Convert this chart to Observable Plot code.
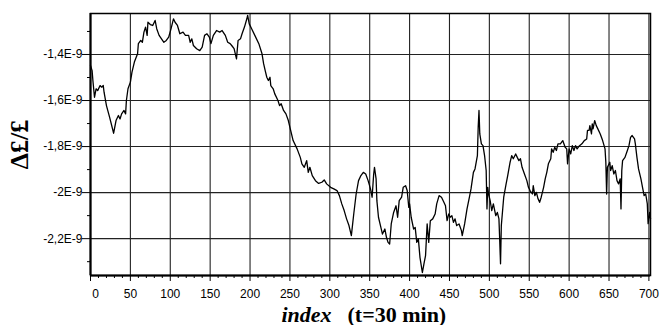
<!DOCTYPE html>
<html>
<head>
<meta charset="utf-8">
<script src="https://cdn.jsdelivr.net/npm/d3@7"></script>
<script src="https://cdn.jsdelivr.net/npm/@observablehq/plot@0.6"></script>
<style>
  html, body { margin: 0; padding: 0; background: #fff; }
  #chart svg { display: block; }
</style>
</head>
<body>
<div id="chart"></div>
<script>
// Sample index (t = 30 min steps)
const xIndex = [
  0, 2, 3, 5, 7, 9, 12, 14, 16, 17, 20, 24, 29, 32, 35, 37, 39, 42, 44, 45,
  47, 50, 52, 55, 59, 60, 63, 65, 67, 69, 71, 72, 75, 78, 81, 83, 86, 89, 92, 95,
  98, 101, 104, 106, 109, 112, 116, 119, 123, 125, 127, 129, 133, 137, 140, 143, 146, 149, 151, 154,
  158, 162, 165, 169, 172, 175, 177, 180, 183, 185, 188, 190, 193, 196, 197, 199, 202, 206, 211, 215,
  217, 219, 221, 223, 225, 226, 229, 231, 235, 237, 239, 242, 245, 248, 250, 254, 259, 263, 265, 268,
  271, 273, 275, 278, 282, 286, 290, 293, 296, 301, 305, 309, 312, 315, 318, 321, 324, 327, 330, 333,
  336, 339, 342, 345, 348, 351, 353, 355, 356, 358, 359, 361, 364, 366, 369, 371, 373, 375, 377, 380,
  383, 385, 387, 390, 392, 395, 397, 399, 400, 402, 405, 407, 409, 411, 413, 416, 418, 420, 422, 424,
  426, 429, 432, 434, 437, 440, 443, 445, 447, 449, 451, 453, 455, 457, 459, 462, 465, 466, 469, 472,
  475, 477, 480, 482, 485, 486, 487, 488, 490, 492, 494, 496, 497, 498, 499, 501, 503, 505, 508, 510,
  512, 513, 514, 515, 518, 521, 523, 526, 528, 530, 533, 535, 537, 539, 541, 544, 547, 549, 551, 554,
  555, 557, 559, 561, 563, 565, 568, 570, 572, 574, 577, 578, 580, 582, 584, 586, 589, 592, 595, 597,
  598, 600, 602, 604, 606, 608, 610, 613, 616, 619, 622, 623, 625, 626, 628, 629, 630, 632, 634, 636,
  639, 642, 645, 646, 647, 648, 651, 652, 654, 656, 658, 660, 662, 664, 665, 666, 667, 670, 673, 675,
  677, 679, 682, 683, 685, 687, 690, 692, 694, 696, 698, 699, 701, 702
];
// Δf/f values, in units of 1E-9
const dff = [
  -1.448, -1.470, -1.513, -1.586, -1.549, -1.557, -1.535, -1.542, -1.535, -1.564, -1.622, -1.673, -1.742, -1.687, -1.665, -1.680, -1.658, -1.643, -1.658, -1.600,
  -1.549, -1.520, -1.477, -1.433, -1.397, -1.353, -1.339, -1.347, -1.303, -1.281, -1.317, -1.260, -1.270, -1.274, -1.252, -1.288, -1.317, -1.332, -1.347, -1.339,
  -1.325, -1.288, -1.245, -1.260, -1.274, -1.310, -1.303, -1.317, -1.317, -1.347, -1.332, -1.361, -1.375, -1.383, -1.368, -1.317, -1.310, -1.325, -1.353, -1.317,
  -1.296, -1.303, -1.296, -1.317, -1.347, -1.353, -1.361, -1.375, -1.419, -1.339, -1.332, -1.310, -1.281, -1.245, -1.230, -1.267, -1.288, -1.317, -1.353, -1.397,
  -1.440, -1.470, -1.499, -1.513, -1.499, -1.535, -1.549, -1.571, -1.600, -1.622, -1.614, -1.643, -1.658, -1.687, -1.717, -1.774, -1.810, -1.847, -1.875, -1.890,
  -1.861, -1.912, -1.890, -1.926, -1.948, -1.960, -1.955, -1.945, -1.962, -1.977, -1.984, -1.991, -2.013, -2.049, -2.078, -2.114, -2.143, -2.187, -2.093, -2.006,
  -1.948, -1.926, -1.912, -1.919, -1.948, -1.984, -2.020, -1.919, -1.890, -1.940, -2.035, -2.107, -2.151, -2.180, -2.158, -2.194, -2.216, -2.223, -2.136, -2.086,
  -2.057, -2.107, -2.035, -2.020, -1.977, -1.970, -1.991, -2.064, -2.049, -2.107, -2.158, -2.151, -2.216, -2.201, -2.281, -2.347, -2.310, -2.274, -2.136, -2.216,
  -2.122, -2.114, -2.093, -2.049, -2.013, -2.020, -2.042, -2.057, -2.122, -2.093, -2.107, -2.100, -2.129, -2.114, -2.143, -2.136, -2.165, -2.187, -2.136, -2.071,
  -2.020, -1.984, -1.912, -1.897, -1.839, -1.716, -1.643, -1.745, -1.788, -1.796, -1.839, -1.904, -2.071, -1.977, -2.006, -2.035, -2.078, -2.049, -2.100, -2.086,
  -2.114, -2.209, -2.309, -2.143, -2.020, -1.962, -1.926, -1.868, -1.839, -1.853, -1.832, -1.847, -1.861, -1.853, -1.890, -1.919, -1.948, -1.977, -1.991, -2.006,
  -1.970, -2.013, -1.999, -2.027, -2.042, -2.020, -1.977, -1.940, -1.912, -1.875, -1.853, -1.810, -1.825, -1.803, -1.817, -1.788, -1.788, -1.774, -1.803, -1.810,
  -1.875, -1.810, -1.832, -1.796, -1.817, -1.796, -1.810, -1.796, -1.788, -1.774, -1.767, -1.730, -1.730, -1.709, -1.745, -1.701, -1.723, -1.687, -1.709, -1.723,
  -1.745, -1.774, -1.810, -1.868, -2.006, -1.890, -1.868, -1.904, -1.883, -1.919, -1.904, -1.948, -1.962, -1.940, -2.071, -1.904, -1.861, -1.847, -1.817, -1.796,
  -1.760, -1.752, -1.767, -1.788, -1.847, -1.897, -1.940, -1.977, -2.013, -2.006, -2.049, -2.135, -2.086, -2.113
];

const xTicks = [0, 50, 100, 150, 200, 250, 300, 350, 400, 450, 500, 550, 600, 650, 700];
const xMinorTicks = [];
for (let v = 0; v <= 700; v += 10) if (v % 50 !== 0) xMinorTicks.push(v);
const yTicks = [-1.4, -1.6, -1.8, -2.0, -2.2];
const yTickLabels = ["-1,4E-9", "-1,6E-9", "-1,8E-9", "-2E-9", "-2,2E-9"];
const yMinorTicks = [-1.3, -1.5, -1.7, -1.9, -2.1, -2.3];
const yTitle = "Δ£/£";
const xTitleMain = "index";
const xTitleUnit = "(t=30 min)";

const data = xIndex.map((x, i) => ({x, y: dff[i]}));
const gridColor = "#222";

const chart = Plot.plot({
  width: 662,
  height: 325,
  marginLeft: 90,
  marginRight: 12,
  marginTop: 13,
  marginBottom: 50,
  x: {domain: [0, 702]},
  y: {domain: [-2.36, -1.222]},
  style: {fontFamily: "'Liberation Sans', Arial, sans-serif", fontSize: "12px", background: "#fff", color: "#000"},
  marks: [
    Plot.gridX(xTicks, {stroke: gridColor, strokeOpacity: 1, strokeWidth: 1.1}),
    Plot.gridY(yTicks, {stroke: gridColor, strokeOpacity: 1, strokeWidth: 1.1}),
    Plot.axisX(xTicks, {tickSize: 6, tickPadding: 8, fontSize: 12, label: null,
      tickFormat: d => d === 0 ? "" : String(d)}),
    Plot.axisX([0], {tickSize: 0, tickPadding: 14, fontSize: 12, label: null, dx: 5,
      tickFormat: d => String(d)}),
    Plot.axisX(xMinorTicks, {tickSize: 3, text: null, label: null}),
    Plot.axisY(yTicks, {tickSize: 8, tickPadding: 0, fontSize: 12, label: null,
      tickFormat: d => yTickLabels[yTicks.indexOf(d)]}),
    Plot.axisY(yMinorTicks, {tickSize: 3, text: null, label: null}),
    Plot.line(data, {x: "x", y: "y", stroke: "#000", strokeWidth: 1.3}),
    Plot.frame({stroke: "#000", strokeWidth: 1.5}),
    Plot.ruleX([0], {stroke: "#000", strokeWidth: 2}),
    Plot.ruleY([-2.36], {stroke: "#000", strokeWidth: 2}),
    Plot.text([yTitle], {frameAnchor: "left", textAnchor: "middle", rotate: -90, dx: -71, fontSize: 26, fontWeight: "bold",
      fontFamily: "'Liberation Serif', 'Times New Roman', serif", lineAnchor: "middle", fill: "#000"}),
    Plot.text([xTitleMain], {frameAnchor: "bottom", textAnchor: "end", dx: -39, dy: 46, lineAnchor: "bottom",
      fontSize: 22, fontWeight: "bold", fontStyle: "italic",
      fontFamily: "'Liberation Serif', 'Times New Roman', serif", fill: "#000"}),
    Plot.text([xTitleUnit], {frameAnchor: "bottom", textAnchor: "start", dx: -23, dy: 46, lineAnchor: "bottom",
      fontSize: 22, fontWeight: "bold",
      fontFamily: "'Liberation Serif', 'Times New Roman', serif", fill: "#000"})
  ]
});
document.getElementById("chart").appendChild(chart);
</script>
</body>
</html>
